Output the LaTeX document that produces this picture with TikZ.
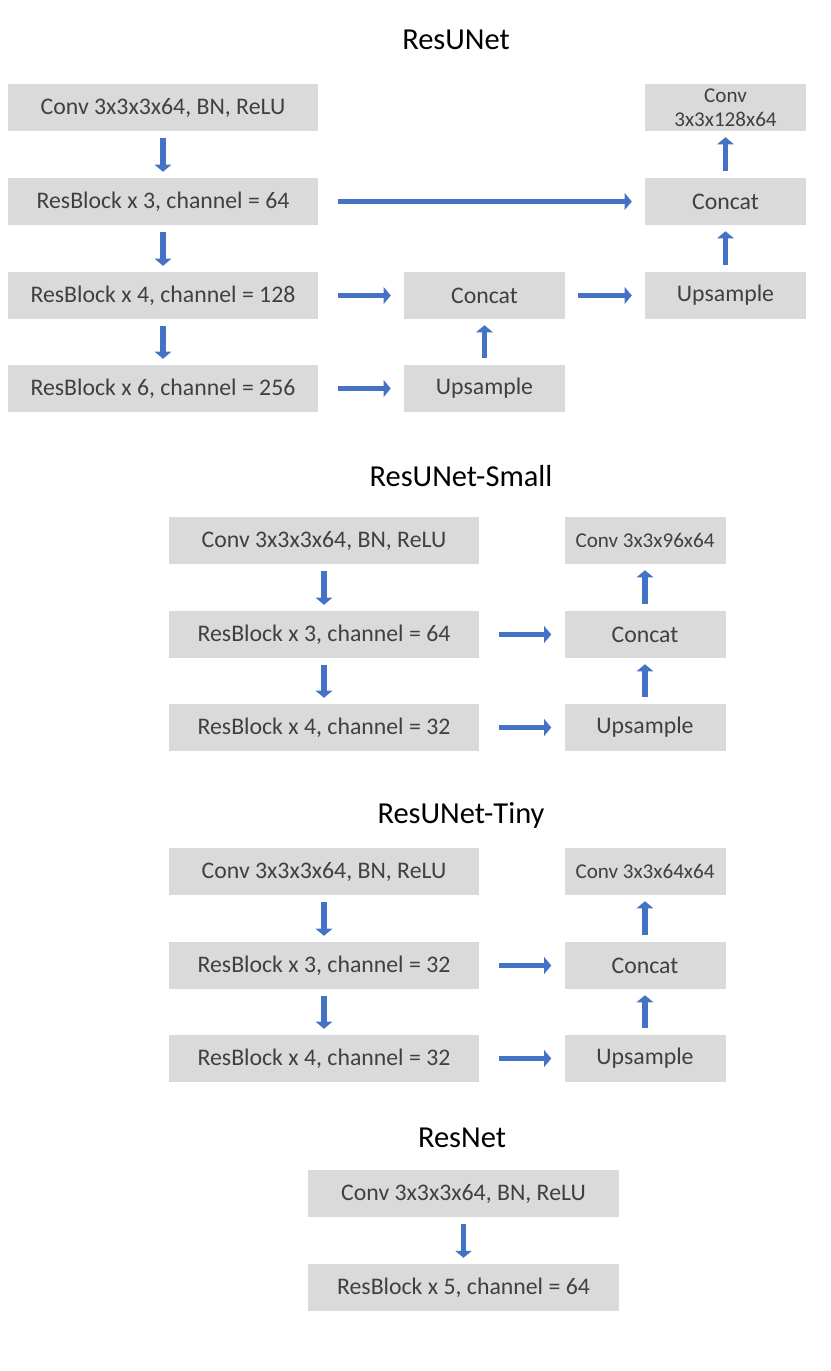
\documentclass[tikz,border=0pt]{standalone}
\usepackage{fontspec}
\setmainfont{Carlito}
\usetikzlibrary{arrows.meta}
\definecolor{boxgray}{RGB}{218,218,218}
\definecolor{textgray}{RGB}{64,64,64}
\definecolor{arrowblue}{RGB}{68,114,196}

\begin{document}
\begin{tikzpicture}[x=0.03cm,y=-0.03cm,
  wide/.style={fill=boxgray,text=textgray,minimum width=9.3cm,minimum height=1.41cm,inner sep=0pt,font=\fontsize{20.3}{24}\selectfont},
  narrow/.style={wide,minimum width=4.83cm},
  small/.style={narrow,font=\fontsize{18}{20.5}\selectfont,align=center},
  heading/.style={font=\fontsize{26}{30}\selectfont},
  flow/.style={arrowblue,line width=5pt,-{Triangle[width=14pt,length=6pt]},shorten <=0.2cm,shorten >=0.18cm},
  side/.style={flow,shorten <=0.6cm,shorten >=0.39cm}]
\useasboundingbox (0,0) rectangle (830,1371);

% ResUNet
\node[heading] (t1) at (456,40) {ResUNet};
\node[wide] (a1) at (163,107.5) {Conv 3x3x3x64, BN, ReLU};
\node[wide] (a2) at (163,201.5) {ResBlock x 3, channel = 64};
\node[wide] (a3) at (163,295.5) {ResBlock x 4, channel = 128};
\node[wide] (a4) at (163,388.5) {ResBlock x 6, channel = 256};
\node[narrow] (am) at (484.5,295.5) {Concat};
\node[narrow] (au) at (484.5,388.5) {Upsample};
\node[small] (ac) at (725.5,107.5) {Conv\\3x3x128x64};
\node[narrow] (ab) at (725.5,201.5) {Concat};
\node[narrow] (ar) at (725.5,295.5) {Upsample};
\draw[flow] (a1) -- (a2);
\draw[flow] (a2) -- (a3);
\draw[flow] (a3) -- (a4);
\draw[side] (a2) -- (ab);
\draw[side] (a3) -- (am);
\draw[side] (a4) -- (au);
\draw[flow] (au) -- (am);
\draw[side,shorten <=0.39cm] (am) -- (ar);
\draw[flow] (ar) -- (ab);
\draw[flow] (ab) -- (ac);

% ResUNet-Small
\node[heading] (t2) at (461,476) {ResUNet-Small};
\node[wide] (b1) at (324,540.5) {Conv 3x3x3x64, BN, ReLU};
\node[wide] (b2) at (324,634.5) {ResBlock x 3, channel = 64};
\node[wide] (b3) at (324,727.5) {ResBlock x 4, channel = 32};
\node[small] (bc) at (645,540.5) {Conv 3x3x96x64};
\node[narrow] (bm) at (645,634.5) {Concat};
\node[narrow] (bu) at (645,727.5) {Upsample};
\draw[flow] (b1) -- (b2);
\draw[flow] (b2) -- (b3);
\draw[side] (b2) -- (bm);
\draw[side] (b3) -- (bu);
\draw[flow] (bu) -- (bm);
\draw[flow] (bm) -- (bc);

% ResUNet-Tiny
\node[heading] (t3) at (461,815) {ResUNet-Tiny};
\node[wide] (c1) at (324,871.5) {Conv 3x3x3x64, BN, ReLU};
\node[wide] (c2) at (324,965.5) {ResBlock x 3, channel = 32};
\node[wide] (c3) at (324,1058.5) {ResBlock x 4, channel = 32};
\node[small] (cc) at (645,871.5) {Conv 3x3x64x64};
\node[narrow] (cm) at (645,965.5) {Concat};
\node[narrow] (cu) at (645,1058.5) {Upsample};
\draw[flow] (c1) -- (c2);
\draw[flow] (c2) -- (c3);
\draw[side] (c2) -- (cm);
\draw[side] (c3) -- (cu);
\draw[flow] (cu) -- (cm);
\draw[flow] (cm) -- (cc);

% ResNet
\node[heading] (t4) at (462,1138) {ResNet};
\node[wide] (d1) at (463.5,1193.5) {Conv 3x3x3x64, BN, ReLU};
\node[wide] (d2) at (463.5,1287.5) {ResBlock x 5, channel = 64};
\draw[flow] (d1) -- (d2);

\end{tikzpicture}
\end{document}
